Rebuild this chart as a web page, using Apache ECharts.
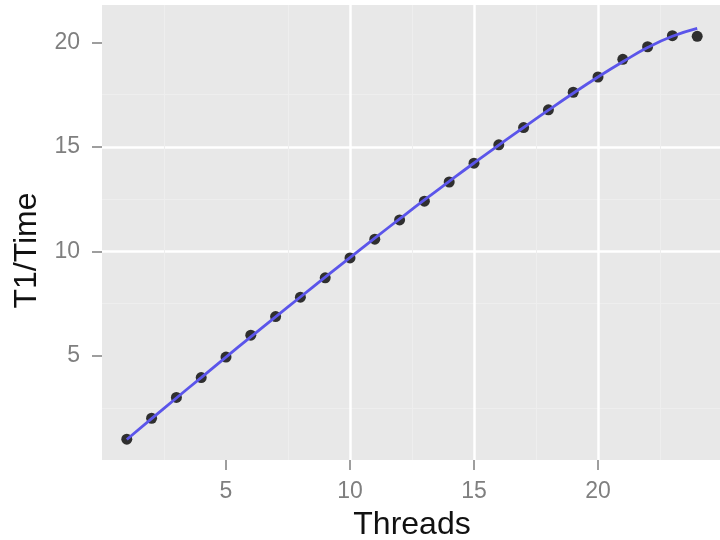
<!DOCTYPE html>
<html>
<head>
<meta charset="utf-8">
<script src="https://cdn.jsdelivr.net/npm/echarts@6/dist/echarts.min.js"></script>
<style>
html,body{margin:0;padding:0;background:#fff;}
#chart{width:720px;height:540px;}
</style>
</head>
<body>
<div id="chart"></div>
<script>
var threads = [1,2,3,4,5,6,7,8,9,10,11,12,13,14,15,16,17,18,19,20,21,22,23,24];
var speedup = [1.0,2.0,3.0,3.95,4.93,5.98,6.87,7.8,8.73,9.68,10.58,11.5,12.4,13.32,14.22,15.1,15.93,16.78,17.62,18.35,19.2,19.8,20.33,20.3];
var fitValues = [0.98,1.98,2.97,3.95,4.93,5.9,6.86,7.81,8.76,9.7,10.63,11.55,12.46,13.35,14.23,15.09,15.93,16.76,17.57,18.35,19.08,19.76,20.3,20.68];
var xTicks = [5,10,15,20];
var yTicks = [5,10,15,20];

var pts = threads.map(function(t,i){return [t, speedup[i]];});
var fit = threads.map(function(t,i){return [t, fitValues[i]];});

var font = 'Liberation Sans, Arial, Helvetica, sans-serif';
var chart = echarts.init(document.getElementById('chart'), null, {renderer:'canvas'});
chart.setOption({
  animation:false,
  backgroundColor:'#ffffff',
  grid:{left:102, top:5, width:620, height:455, show:true, backgroundColor:'#e8e8e8', borderWidth:0, containLabel:false, outerBoundsMode:'none'},
  xAxis:{
    type:'value', min:0, max:25, interval:5,
    name:'Threads', nameLocation:'middle', nameGap:49,
    nameTextStyle:{fontFamily:font, fontSize:32, color:'#111'},
    axisLine:{show:false},
    axisTick:{show:true, length:10, lineStyle:{color:'#7f7f7f', width:1.5}, customValues:xTicks},
    axisLabel:{fontFamily:font, fontSize:23, color:'#7f7f7f', margin:20, customValues:xTicks},
    splitLine:{show:true, showMinLine:false, lineStyle:{color:'#ffffff', width:2.5}},
    minorTick:{show:false, splitNumber:2},
    minorSplitLine:{show:true, lineStyle:{color:'#eeeeee', width:1}}
  },
  yAxis:{
    type:'value', min:0, max:21.8, interval:5,
    name:'T1/Time', nameLocation:'middle', nameGap:54,
    nameTextStyle:{fontFamily:font, fontSize:32, color:'#111', padding:[0,36,0,0]},
    axisLine:{show:false},
    axisTick:{show:true, length:10, lineStyle:{color:'#7f7f7f', width:1.5}, customValues:yTicks},
    axisLabel:{fontFamily:font, fontSize:23, color:'#7f7f7f', margin:22, customValues:yTicks},
    splitLine:{show:true, showMinLine:false, showMaxLine:false, lineStyle:{color:'#ffffff', width:2.5}},
    minorTick:{show:false, splitNumber:2},
    minorSplitLine:{show:true, lineStyle:{color:'#eeeeee', width:1}}
  },
  series:[
    {type:'scatter', data:pts, symbol:'circle', symbolSize:11, itemStyle:{color:'#000000'}, z:2},
    {type:'line', data:fit, smooth:true, showSymbol:false, lineStyle:{color:'#5b55ea', width:2.8}, z:3}
  ]
});
</script>
</body>
</html>
